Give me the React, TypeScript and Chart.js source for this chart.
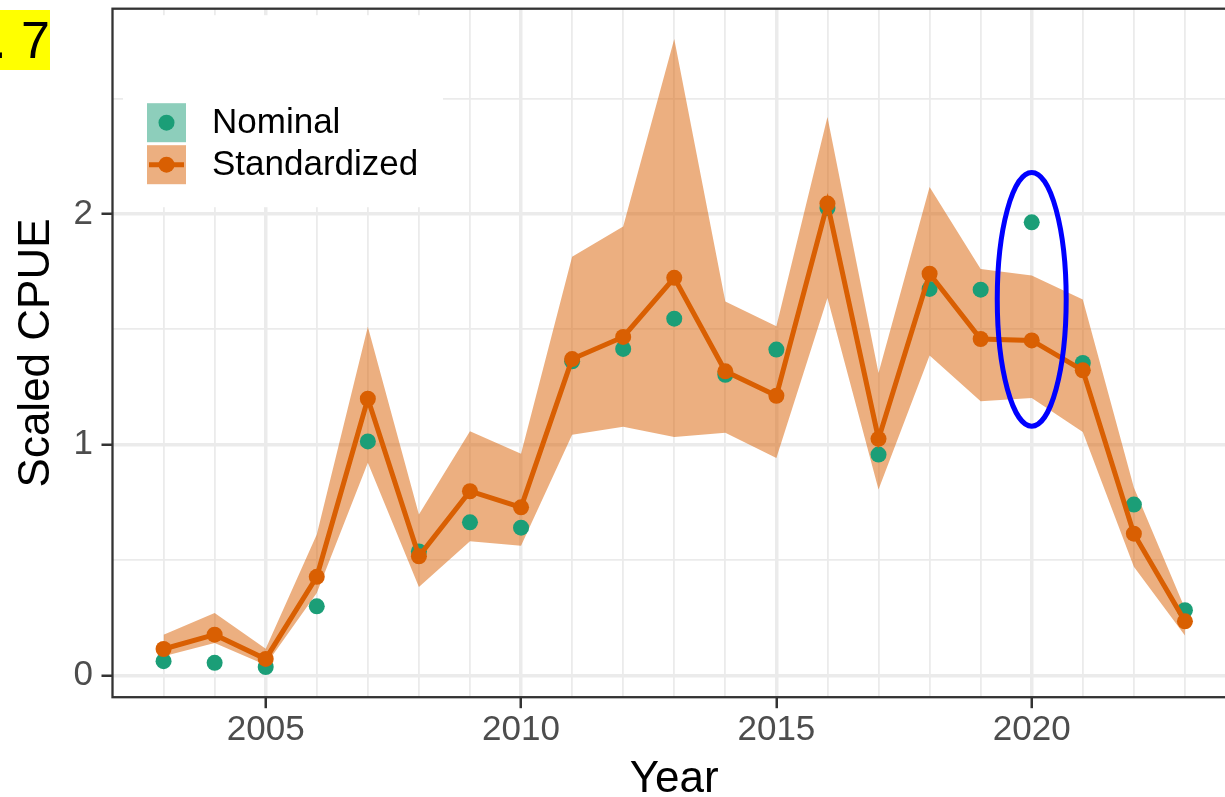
import React, { useEffect, useRef } from "react";
import { Chart, registerables } from "chart.js";

Chart.register(...registerables);
Chart.defaults.font.family = "'Liberation Sans', Arial, Helvetica, sans-serif";

// ---- data ----
const years = [
  2003, 2004, 2005, 2006, 2007, 2008, 2009, 2010, 2011, 2012, 2013,
  2014, 2015, 2016, 2017, 2018, 2019, 2020, 2021, 2022, 2023,
];
const nominal = [
  0.061, 0.054, 0.036, 0.299, 1.014, 0.537, 0.663, 0.64, 1.361, 1.415, 1.546,
  1.303, 1.412, 2.026, 0.957, 1.675, 1.672, 1.964, 1.354, 0.74, 0.282,
];
const standardized = [
  0.114, 0.176, 0.071, 0.427, 1.199, 0.516, 0.798, 0.728, 1.371, 1.467, 1.723,
  1.318, 1.212, 2.045, 1.025, 1.741, 1.458, 1.452, 1.322, 0.614, 0.234,
];
const upperCI = [
  0.176, 0.27, 0.115, 0.61, 1.511, 0.697, 1.058, 0.961, 1.815, 1.946, 2.759,
  1.621, 1.513, 2.42, 1.311, 2.117, 1.762, 1.733, 1.629, 0.814, 0.29,
];
const lowerCI = [
  0.082, 0.14, 0.045, 0.357, 0.921, 0.383, 0.581, 0.562, 1.043, 1.077, 1.033,
  1.051, 0.942, 1.636, 0.805, 1.386, 1.188, 1.202, 1.055, 0.471, 0.172,
];
const xLabelYears = [2005, 2010, 2015, 2020];
const yGridValues = [0, 0.5, 1, 1.5, 2, 2.5];
const yLabelValues = [0, 1, 2];
const legendLabels = ["Nominal", "Standardized"];

// highlighted point (blue ring)
const ringYear = 2020;
const ringCenter = 1.63;
const ringHalfWidth = 0.675; // years
const ringHalfHeight = 0.55; // CPUE units

const TEAL = "#1B9E77";
const ORANGE = "#D95F02";
const RIBBON = "rgba(217,95,2,0.5)";
const TEAL_KEY = "rgba(27,158,119,0.5)";
const GRID = "#EBEBEB";
const DARK = "#333333";

const panelPlugin = {
  id: "panelDecor",
  afterDatasetsDraw(chart: Chart) {
    const { ctx, chartArea: a, scales } = chart;
    const x = scales.x;
    const y = scales.y;
    ctx.save();

    // legend inside the panel
    ctx.fillStyle = "#ffffff";
    ctx.fillRect(a.left + 10.5, a.top + 6.5, 320, 192);
    const keyX = a.left + 34.5;
    const keys = [a.top + 94.5, a.top + 136.5];
    // Nominal key
    ctx.fillStyle = TEAL_KEY;
    ctx.fillRect(keyX, keys[0], 39, 39);
    ctx.fillStyle = TEAL;
    ctx.beginPath();
    ctx.arc(keyX + 19.5, keys[0] + 19.5, 8, 0, Math.PI * 2);
    ctx.fill();
    // Standardized key
    ctx.fillStyle = RIBBON;
    ctx.fillRect(keyX, keys[1], 39, 39);
    ctx.strokeStyle = ORANGE;
    ctx.lineWidth = 5;
    ctx.beginPath();
    ctx.moveTo(keyX + 2, keys[1] + 19.5);
    ctx.lineTo(keyX + 37, keys[1] + 19.5);
    ctx.stroke();
    ctx.fillStyle = ORANGE;
    ctx.beginPath();
    ctx.arc(keyX + 19.5, keys[1] + 19.5, 8, 0, Math.PI * 2);
    ctx.fill();
    // labels
    ctx.fillStyle = "#000000";
    ctx.font = "35px 'Liberation Sans', Arial, sans-serif";
    ctx.textBaseline = "middle";
    ctx.textAlign = "left";
    legendLabels.forEach((t, i) => ctx.fillText(t, a.left + 99.5, keys[i] + 20.5));

    // blue ring round the 2020 values
    const cx = x.getPixelForValue(ringYear);
    const cy = y.getPixelForValue(ringCenter);
    const rx = Math.abs(x.getPixelForValue(ringYear + ringHalfWidth) - cx);
    const ry = Math.abs(y.getPixelForValue(ringCenter + ringHalfHeight) - cy);
    ctx.strokeStyle = "#0000FF";
    ctx.lineWidth = 5;
    ctx.beginPath();
    ctx.ellipse(cx, cy, rx, ry, 0, 0, Math.PI * 2);
    ctx.stroke();

    // panel border
    ctx.strokeStyle = DARK;
    ctx.lineWidth = 2.3;
    ctx.strokeRect(a.left, a.top, a.right - a.left, a.bottom - a.top);
    ctx.restore();
  },
};

const CpueChart = () => {
  const canvasRef = useRef<HTMLCanvasElement>(null);

  useEffect(() => {
    if (!canvasRef.current) return;
    const chart = new Chart(canvasRef.current, {
      type: "line",
      data: {
        datasets: [
          {
            label: "Standardized",
            data: years.map((yr, i) => ({ x: yr, y: standardized[i] })),
            borderColor: ORANGE,
            borderWidth: 5,
            pointRadius: 8,
            pointBackgroundColor: ORANGE,
            pointBorderWidth: 0,
            tension: 0,
            fill: false,
          },
          {
            label: "Nominal",
            data: years.map((yr, i) => ({ x: yr, y: nominal[i] })),
            showLine: false,
            pointRadius: 8,
            pointBackgroundColor: TEAL,
            pointBorderWidth: 0,
          },
          {
            label: "upper",
            data: years.map((yr, i) => ({ x: yr, y: upperCI[i] })),
            borderColor: "rgba(0,0,0,0)",
            borderWidth: 0,
            pointRadius: 0,
            backgroundColor: RIBBON,
            fill: "+1",
            tension: 0,
          },
          {
            label: "lower",
            data: years.map((yr, i) => ({ x: yr, y: lowerCI[i] })),
            borderColor: "rgba(0,0,0,0)",
            borderWidth: 0,
            pointRadius: 0,
            fill: false,
            tension: 0,
          },
        ],
      },
      options: {
        animation: false,
        responsive: true,
        maintainAspectRatio: false,
        events: [],
        layout: { padding: { top: 8.7, right: 1, left: 0, bottom: 0 } },
        plugins: {
          legend: { display: false },
          tooltip: { enabled: false },
        },
        scales: {
          x: {
            type: "linear",
            min: 2002,
            max: 2024,
            afterBuildTicks: (s: any) => {
              s.ticks = years.map((v) => ({ value: v }));
            },
            afterFit: (s: any) => {
              s.height = 99.8;
              s.paddingLeft = 0;
              s.paddingRight = 0;
            },
            border: { display: false },
            grid: {
              color: GRID,
              lineWidth: (c: any) => (xLabelYears.includes(c.tick?.value) ? 3.5 : 1.8),
              tickColor: (c: any) => (xLabelYears.includes(c.tick?.value) ? DARK : "rgba(0,0,0,0)"),
              tickWidth: 2.5,
              tickLength: 11,
            },
            ticks: {
              autoSkip: false,
              maxRotation: 0,
              padding: 1.5,
              color: "#4D4D4D",
              font: { size: 35 },
              callback: (v: any) => (xLabelYears.includes(v) ? String(v) : ""),
            },
            title: {
              display: true,
              text: "Year",
              color: "#000000",
              font: { size: 44, lineHeight: 0.8 },
              padding: { top: 1.4, bottom: 0 },
            },
          },
          y: {
            type: "linear",
            min: -0.095,
            max: 2.89,
            afterBuildTicks: (s: any) => {
              s.ticks = yGridValues.map((v) => ({ value: v }));
            },
            afterFit: (s: any) => {
              s.width = 112.5;
              s.paddingTop = 0;
              s.paddingBottom = 0;
            },
            border: { display: false },
            grid: {
              color: GRID,
              lineWidth: (c: any) => (yLabelValues.includes(c.tick?.value) ? 3.5 : 1.8),
              tickColor: (c: any) => (yLabelValues.includes(c.tick?.value) ? DARK : "rgba(0,0,0,0)"),
              tickWidth: 2.5,
              tickLength: 11,
            },
            ticks: {
              autoSkip: false,
              padding: 8.5,
              color: "#4D4D4D",
              font: { size: 35 },
              callback: (v: any) => (yLabelValues.includes(v) ? String(v) : ""),
            },
            title: {
              display: true,
              text: "Scaled CPUE",
              color: "#000000",
              font: { size: 44, lineHeight: 0.8 },
              padding: { top: 19.7, bottom: 0 },
            },
          },
        },
      },
      plugins: [panelPlugin],
    });
    return () => chart.destroy();
  }, []);

  return (
    <div style={{ position: "absolute", left: 0, top: 0, width: 1244, height: 797 }}>
      <canvas ref={canvasRef} />
    </div>
  );
};

export default function App() {
  return (
    <div
      style={{
        position: "fixed",
        left: 0,
        top: 0,
        width: 1225,
        height: 797,
        overflow: "hidden",
        background: "#ffffff",
      }}
    >
      <CpueChart />
      <div
        style={{
          position: "absolute",
          left: 0,
          top: 10,
          width: 50,
          height: 60,
          background: "#FFFF00",
          overflow: "hidden",
          display: "flex",
          justifyContent: "flex-end",
          alignItems: "center",
          whiteSpace: "nowrap",
          fontFamily: "'Liberation Sans', Arial, sans-serif",
          fontSize: 52,
          lineHeight: "60px",
          color: "#000000",
        }}
      >
        Fig. 7
      </div>
    </div>
  );
}
